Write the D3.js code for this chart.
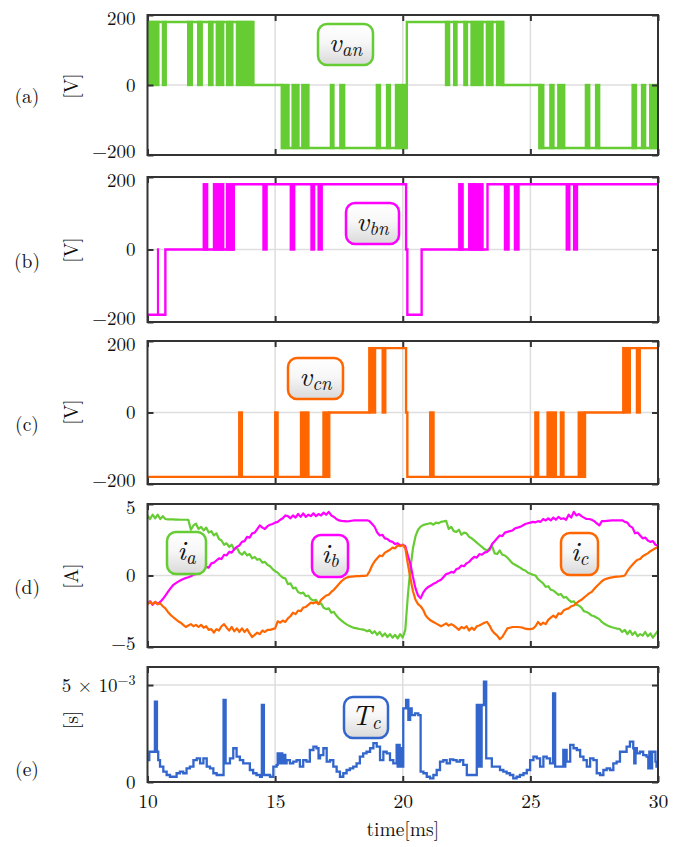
<!DOCTYPE html>
<html><head><meta charset="utf-8">
<script src="https://cdn.jsdelivr.net/npm/d3@7"></script>
<style>body{margin:0;background:#fff}svg{display:block}</style>
</head><body><svg id="c" width="685" height="847"></svg>
<script>
// ---------------- DATA ----------------
const X_TICKS = [10, 15, 20, 25, 30];
const V_TICKS = [-200, 0, 200];
const I_TICKS = [-5, 0, 5];
const T_TICKS = [0, 5e-3];

// phase voltages: held levels (step-after, [t ms, V]) and PWM switching bands ([t0, t1, peak V])
const vanLevels = [[10,180],[14.15,0],[15.26,-180],[20.16,180],[23.94,0],[25.35,-180]];
const vanBands = [[10.00,10.46,180],[10.57,10.75,180],[11.56,11.77,180],[11.95,12.16,180],[12.38,12.58,180],[12.68,13.00,180],[13.08,13.36,180],[13.47,14.15,180],
  [15.26,15.56,-180],[15.65,15.95,-180],[16.03,16.34,-180],[17.15,17.32,-180],[17.52,17.74,-180],[18.95,19.14,-180],[19.35,19.53,-180],[19.70,20.16,-180],
  [21.66,21.85,180],[21.98,22.14,180],[22.38,22.55,180],[22.66,23.16,180],[23.26,23.55,180],[23.66,23.94,180],
  [25.35,25.54,-180],[25.75,25.94,-180],[26.06,26.36,-180],[27.14,27.34,-180],[27.54,27.73,-180],[28.97,29.17,-180],[29.34,29.53,-180],[29.66,30.00,-180]];

const vbnLevels = [[10,-180],[10.70,0],[13.38,180],[20.13,0],[20.18,-180],[20.74,0],[23.32,180]];
const vbnBands = [[10.38,10.44,-180],[12.17,12.37,180],[12.57,13.00,180],[13.08,13.38,180],
  [14.51,14.70,180],[15.58,15.78,180],[16.39,16.56,180],[16.67,16.86,180],
  [22.18,22.38,180],[22.57,23.16,180],[23.97,24.18,180],[24.36,24.57,180],[26.39,26.56,180],[26.68,26.86,180]];

const vcnLevels = [[10,-180],[17.12,0],[18.69,180],[20.13,0],[20.18,-180],[27.14,0],[28.64,180]];
const vcnBands = [[13.56,13.73,-180],[14.97,15.13,-180],[15.98,16.34,-180],[16.86,17.12,-180],[18.69,18.95,180],[19.18,19.35,180],
  [21.04,21.24,-180],[25.16,25.34,-180],[25.64,26.03,-180],[26.16,26.33,-180],[26.86,27.14,-180],[28.64,28.93,180],[29.14,29.32,180]];

// phase currents sampled every 0.1 ms from 10 to 30 ms [A]
const iaVals = [
 4.20,3.95,4.25,4.00,4.25,3.95,4.15,3.95,3.93,3.92,
 3.92,3.91,3.91,3.90,3.90,3.90,3.89,3.20,3.50,3.62,
 3.25,3.40,3.15,3.35,3.00,3.10,2.80,2.95,2.55,2.45,
 2.15,2.25,2.00,2.15,1.80,1.95,1.60,1.45,1.65,1.40,
 1.50,1.20,1.30,1.10,1.15,0.90,0.95,0.75,0.65,0.45,
 0.30,0.20,0.00,-0.15,-0.20,-0.60,-0.55,-0.90,-0.85,-1.15,
 -1.25,-1.20,-1.45,-1.40,-1.65,-1.75,-1.70,-2.00,-1.95,-2.25,
 -2.35,-2.30,-2.60,-2.55,-2.80,-3.00,-3.15,-3.30,-3.42,-3.52,
 -3.60,-3.66,-3.70,-3.74,-3.77,-3.80,-3.90,-3.82,-4.05,-3.90,
 -4.15,-3.95,-4.25,-4.05,-4.30,-4.10,-4.35,-4.15,-4.40,-4.10,
 -4.35,-3.80,-1.40,0.50,1.90,2.75,3.20,3.42,3.52,3.58,
 3.62,3.66,3.55,3.70,3.65,3.75,3.78,3.82,3.25,3.40,
 3.10,3.05,3.20,2.85,3.00,2.95,2.70,2.60,2.45,2.30,
 2.15,2.00,1.85,1.75,1.90,2.05,1.55,1.50,1.75,1.45,
 1.40,1.25,1.05,0.85,0.75,0.65,0.55,0.42,0.35,0.20,
 0.12,0.05,0.00,-0.25,-0.40,-0.55,-0.80,-0.75,-1.00,-1.05,
 -1.20,-1.35,-1.30,-1.55,-1.50,-1.70,-1.85,-1.80,-2.05,-2.10,
 -2.25,-2.50,-2.55,-2.65,-2.80,-2.85,-2.95,-3.05,-3.25,-3.38,
 -3.48,-3.56,-3.62,-3.67,-3.71,-3.74,-3.95,-3.80,-4.10,-3.85,
 -4.15,-3.95,-4.25,-4.10,-4.20,-3.95,-4.25,-4.05,-4.35,-4.10,
 -3.85];
const ibVals = [
 -2.00,-1.80,-2.05,-1.85,-2.00,-1.85,-1.65,-1.40,-1.15,-0.90,
 -0.68,-0.55,-0.43,-0.33,-0.25,-0.18,-0.12,-0.05,0.05,0.10,
 0.30,0.25,0.50,0.60,0.55,0.85,0.90,1.05,1.20,1.15,
 1.45,1.40,1.65,1.60,1.85,2.00,2.10,2.35,2.40,2.70,
 2.65,2.95,3.00,3.25,3.50,3.35,3.25,3.45,3.55,3.60,
 3.70,3.75,3.90,4.00,4.20,4.15,4.00,4.20,4.05,4.30,
 4.10,4.35,4.10,4.25,4.15,4.35,4.15,4.30,4.20,4.40,
 4.25,4.45,4.20,4.10,3.95,3.85,3.82,3.80,3.78,3.80,
 3.83,3.85,3.85,3.86,3.86,3.86,3.86,3.80,3.60,3.40,
 3.00,2.80,2.85,2.60,2.55,2.40,2.35,2.20,2.25,2.10,
 2.15,2.05,1.40,0.80,-0.10,-0.90,-1.40,-1.60,-1.20,-0.95,
 -0.80,-0.70,-0.58,-0.50,-0.38,-0.30,-0.10,0.10,0.15,0.25,
 0.20,0.45,0.50,0.70,0.65,0.85,0.95,1.15,1.30,1.25,
 1.50,1.45,1.60,1.65,1.80,2.20,2.40,2.60,2.80,2.75,
 3.00,3.05,3.10,3.15,3.30,3.35,3.40,3.50,3.60,3.65,
 3.70,3.75,3.72,3.80,3.75,3.95,3.85,4.00,3.85,4.05,
 3.90,4.10,3.95,4.00,3.90,4.25,4.05,4.45,4.20,4.30,
 4.15,4.05,3.95,3.95,3.90,3.80,3.65,3.50,3.80,3.80,
 3.82,3.84,3.85,3.86,3.86,3.86,3.86,3.75,3.70,3.45,
 3.35,2.95,3.00,2.80,2.60,2.65,2.45,2.35,2.40,2.15,
 2.10];
const icVals = [
 -2.00,-1.85,-2.00,-1.85,-2.00,-1.95,-2.15,-2.30,-2.55,-2.75,
 -2.90,-3.05,-3.20,-3.30,-3.45,-3.60,-3.50,-3.40,-3.55,-3.45,
 -3.60,-3.45,-3.65,-3.55,-3.80,-3.75,-4.00,-3.75,-3.85,-3.55,
 -3.40,-3.65,-3.85,-3.60,-3.90,-3.70,-3.95,-3.70,-3.95,-3.75,
 -4.05,-4.30,-4.15,-4.00,-4.10,-3.85,-3.95,-3.80,-3.80,-3.75,
 -3.70,-3.20,-3.30,-3.15,-3.25,-3.00,-2.85,-2.60,-2.70,-2.45,
 -2.50,-2.25,-2.20,-2.05,-1.90,-1.95,-1.85,-2.00,-1.70,-1.55,
 -1.40,-1.35,-1.15,-1.00,-0.80,-0.60,-0.40,-0.25,-0.15,-0.10,
 -0.08,-0.06,-0.05,-0.04,-0.03,-0.02,0.00,0.30,0.70,1.00,
 1.20,1.40,1.35,1.60,1.70,1.80,1.95,1.90,2.10,2.05,
 2.15,1.90,0.80,-0.20,-1.10,-1.70,-2.00,-2.15,-2.40,-2.80,
 -3.00,-3.15,-3.25,-3.35,-3.45,-3.55,-3.45,-3.35,-3.50,-3.40,
 -3.50,-3.65,-3.80,-3.60,-3.70,-3.55,-3.85,-3.65,-3.80,-3.55,
 -3.50,-3.40,-3.30,-3.25,-3.50,-3.85,-4.05,-4.20,-4.45,-4.30,
 -4.00,-3.70,-3.65,-3.60,-3.60,-3.60,-3.62,-3.65,-3.72,-3.75,
 -3.75,-3.72,-3.55,-3.25,-3.45,-3.30,-3.40,-3.10,-2.95,-2.80,
 -2.95,-2.65,-2.70,-2.45,-2.35,-2.30,-2.15,-2.10,-1.95,-1.80,
 -1.70,-1.55,-1.40,-1.25,-1.15,-0.95,-0.75,-0.58,-0.40,-0.28,
 -0.22,-0.17,-0.13,-0.10,-0.08,-0.07,-0.05,0.00,0.30,0.55,
 0.75,0.95,1.10,1.15,1.35,1.45,1.55,1.70,1.80,1.90,
 2.00];
const tCur = d3.range(iaVals.length).map(i => 10 + i / 10);

// computation time T_c, step-after [t ms, value in 1e-3 s]
const tcSteps = [[10.00,1.13],[10.07,1.56],[10.29,4.14],[10.37,1.56],[10.42,1.13],[10.49,0.79],[10.62,0.53],[10.75,0.36],[10.88,0.27],[11.14,0.45],[11.27,0.53],[11.40,0.45],[11.53,0.70],[11.66,0.79],[11.80,1.13],[11.93,1.22],[12.06,0.96],[12.19,1.22],[12.32,0.79],[12.45,0.70],[12.58,0.45],[12.71,0.36],[12.98,4.23],[13.06,0.96],[13.23,1.22],[13.36,1.74],[13.49,1.31],[13.62,1.13],[13.75,0.96],[14.01,0.62],[14.14,0.45],[14.27,0.36],[14.41,0.27],[14.48,3.97],[14.56,0.36],[14.80,0.27],[14.93,0.79],[15.06,0.88],[15.10,1.48],[15.16,0.96],[15.22,1.48],[15.28,0.96],[15.34,1.40],[15.40,0.96],[15.45,1.13],[15.58,0.96],[15.71,1.05],[15.84,1.13],[15.97,0.79],[16.10,1.13],[16.23,1.05],[16.36,1.65],[16.50,1.82],[16.62,1.74],[16.70,1.22],[16.76,1.39],[16.89,1.74],[17.02,1.05],[17.15,1.13],[17.28,0.79],[17.41,0.53],[17.54,0.27],[17.67,0.45],[17.80,0.62],[17.93,0.70],[18.06,0.79],[18.19,0.96],[18.32,1.31],[18.45,1.48],[18.58,1.56],[18.72,1.74],[18.85,2.00],[18.98,1.82],[19.11,1.13],[19.24,1.56],[19.37,1.48],[19.50,1.13],[19.63,0.96],[19.76,1.91],[19.80,0.79],[19.84,1.91],[19.88,0.79],[19.92,1.74],[19.96,0.79],[20.02,3.80],[20.13,4.23],[20.22,3.20],[20.29,3.80],[20.35,3.45],[20.48,3.54],[20.61,3.45],[20.70,0.53],[20.81,0.45],[20.94,0.27],[21.07,0.19],[21.20,0.36],[21.33,0.62],[21.46,1.05],[21.59,1.13],[21.72,0.96],[21.85,1.17],[21.98,1.13],[22.11,1.05],[22.24,1.13],[22.37,0.88],[22.51,0.36],[22.90,3.97],[22.95,0.80],[23.00,3.97],[23.05,0.80],[23.09,3.97],[23.18,5.17],[23.27,1.22],[23.49,0.79],[23.81,0.62],[23.94,0.53],[24.07,0.45],[24.20,0.36],[24.33,0.19],[24.46,0.27],[24.59,0.36],[24.73,0.45],[24.86,0.62],[24.99,1.13],[25.12,1.31],[25.25,1.22],[25.38,0.79],[25.51,1.31],[25.64,1.22],[25.77,0.96],[25.89,4.57],[25.97,0.79],[26.29,1.65],[26.33,0.80],[26.37,1.65],[26.42,1.05],[26.56,1.91],[26.69,1.74],[26.82,1.65],[26.95,1.31],[27.08,1.13],[27.21,0.79],[27.34,1.22],[27.47,1.13],[27.60,0.45],[27.73,0.36],[27.86,0.62],[27.99,0.70],[28.12,0.62],[28.25,0.96],[28.38,1.05],[28.51,1.56],[28.77,1.82],[28.90,2.08],[29.03,1.74],[29.07,0.96],[29.12,1.74],[29.17,1.48],[29.29,1.56],[29.42,1.39],[29.55,1.31],[29.62,0.70],[29.66,1.56],[29.72,0.70],[29.77,1.56],[29.90,1.05],[29.94,0.79]];

// ---------------- LAYOUT / STYLE ----------------
const X0 = 147.5, X1 = 658;
const FONT = '"Latin Modern Roman", "CMU Serif", "Liberation Serif", serif';
const FRAME = '#333';
const GRID = '#dedede';
const GREEN = '#66cc33', MAGENTA = '#ff00ff', ORANGE = '#ff6600', BLUE = '#3366cc';
const FS = 19.5;
const TFS = 19;
const P = {
  a:{top:15, bottom:155, tagY:97, unitY:86},
  b:{top:177, bottom:322, tagY:262, unitY:250},
  c:{top:341, bottom:484, tagY:425, unitY:412},
  d:{top:504, bottom:647, tagY:588, unitY:576},
  e:{top:667, bottom:782, tagY:770, unitY:720}
};

const svg = d3.select('#c');
const x = d3.scaleLinear().domain([10, 30]).range([X0, X1]);
const txt = (sel, fs = FS) => sel.style('font-family', FONT).style('font-size', fs + 'px').attr('fill', '#111');

const defs = svg.append('defs');
const grad = defs.append('linearGradient').attr('id','boxg').attr('x1',0).attr('y1',0).attr('x2',0).attr('y2',1);
grad.append('stop').attr('offset','0%').attr('stop-color','#ffffff');
grad.append('stop').attr('offset','45%').attr('stop-color','#f7f7f7');
grad.append('stop').attr('offset','100%').attr('stop-color','#d9d9d9');

function panel(key, domain, yTicks, gridY) {
  const p = P[key];
  const y = d3.scaleLinear().domain(domain).range([p.bottom, p.top]);
  const g = svg.append('g');
  defs.append('clipPath').attr('id','clip'+key).append('rect')
    .attr('x',X0).attr('y',p.top).attr('width',X1-X0).attr('height',p.bottom-p.top);
  const grid = g.append('g');
  grid.selectAll('line.v').data(X_TICKS.slice(1,-1)).join('line')
    .attr('x1',d=>x(d)).attr('x2',d=>x(d)).attr('y1',p.top).attr('y2',p.bottom)
    .attr('stroke',GRID).attr('stroke-width',1.5);
  grid.selectAll('line.h').data(gridY).join('line')
    .attr('x1',X0).attr('x2',X1).attr('y1',d=>y(d)).attr('y2',d=>y(d))
    .attr('stroke',GRID).attr('stroke-width',1.5);
  const data = g.append('g').attr('clip-path',`url(#clip${key})`);
  return {g, y, data, p, yTicks};
}

function finish(pn, yFmt, xLabels) {
  const {g, y, p, yTicks} = pn;
  g.append('rect').attr('x',X0).attr('y',p.top).attr('width',X1-X0).attr('height',p.bottom-p.top)
    .attr('fill','none').attr('stroke',FRAME).attr('stroke-width',2);
  const style = sel => {
    sel.select('.domain').remove();
    sel.selectAll('line').attr('stroke',FRAME).attr('stroke-width',2);
    sel.selectAll('text').call(txt, TFS);
  };
  const [dMin, dMax] = y.domain();
  const al = g.append('g').attr('transform',`translate(${X0},0)`)
    .call(d3.axisLeft(y).tickValues(yTicks).tickSizeInner(-6).tickSizeOuter(0).tickPadding(12).tickFormat(yFmt));
  style(al);
  // keep stacked edge labels of neighbouring panels apart
  al.selectAll('.tick text').attr('y', d => d === dMin ? -3.5 : (d === dMax ? 3.5 : 0));
  const ar = g.append('g').attr('transform',`translate(${X1},0)`)
    .call(d3.axisRight(y).tickValues(yTicks).tickSizeInner(-6).tickSizeOuter(0).tickFormat(''));
  style(ar);
  const ab = g.append('g').attr('transform',`translate(0,${p.bottom})`)
    .call(d3.axisBottom(x).tickValues(X_TICKS).tickSizeInner(-6).tickSizeOuter(0).tickPadding(12).tickFormat(xLabels ? d3.format('d') : ''));
  style(ab);
  ab.selectAll('text').call(txt, FS);
  const at = g.append('g').attr('transform',`translate(0,${p.top})`)
    .call(d3.axisTop(x).tickValues(X_TICKS).tickSizeInner(-6).tickSizeOuter(0).tickFormat(''));
  style(at);
  return al;
}

function voltage(key, levels, bands, color) {
  const pn = panel(key, [-200, 200], V_TICKS, [0]);
  const y = pn.y, LW = 2.4;
  pn.data.selectAll('rect').data(bands).join('rect')
    .attr('x', d => x(d[0]) - 0.3).attr('width', d => x(d[1]) - x(d[0]) + 0.6)
    .attr('y', d => Math.min(y(d[2]), y(0)) - LW/2).attr('height', d => Math.abs(y(d[2]) - y(0)) + LW)
    .attr('fill', color);
  const pts = levels.concat([[30, levels[levels.length-1][1]]]);
  pn.data.append('path').datum(pts)
    .attr('d', d3.line().x(d=>x(d[0])).y(d=>y(d[1])).curve(d3.curveStepAfter))
    .attr('fill','none').attr('stroke',color).attr('stroke-width',LW);
  finish(pn, d3.format('d'), false);
}

voltage('a', vanLevels, vanBands, GREEN);
voltage('b', vbnLevels, vbnBands, MAGENTA);
voltage('c', vcnLevels, vcnBands, ORANGE);

// currents
{
  const pn = panel('d', [-5, 5], I_TICKS, [0]);
  const line = d3.line().x((d,i)=>x(tCur[i])).y(d=>pn.y(d)).curve(d3.curveLinear);
  [[iaVals,GREEN],[ibVals,MAGENTA],[icVals,ORANGE]].forEach(([v,c]) => {
    pn.data.append('path').datum(v).attr('d', line).attr('fill','none')
      .attr('stroke', c).attr('stroke-width', 2.2).attr('stroke-linejoin','round');
  });
  finish(pn, d3.format('d'), false);
}

// computation time
{
  const pn = panel('e', [0, 5.93e-3], T_TICKS, [5e-3]);
  const pts = tcSteps.concat([[30, tcSteps[tcSteps.length-1][1]]]);
  pn.data.append('path').datum(pts)
    .attr('d', d3.line().x(d=>x(d[0])).y(d=>pn.y(d[1]*1e-3)).curve(d3.curveStepAfter))
    .attr('fill','none').attr('stroke',BLUE).attr('stroke-width',2.3);
  const al = finish(pn, d => d === 0 ? '0' : '', true);
  al.selectAll('.tick text').attr('y', 0);
  al.selectAll('.tick').filter(d => d !== 0).select('text').each(function() {
    const t = d3.select(this);
    t.append('tspan').text('5 \u00d7 10');
    t.append('tspan').attr('dy','-0.5em').style('font-size','14px').text('\u22123');
  });
}

// axis title
svg.append('text').attr('x',(X0+X1)/2).attr('y',836).attr('text-anchor','middle')
  .call(txt).text('time[ms]');

// panel tags and units
const tags = [['a','(a)','[V]'],['b','(b)','[V]'],['c','(c)','[V]'],['d','(d)','[A]'],['e','(e)','[s]']];
tags.forEach(([k,tag,unit]) => {
  svg.append('text').attr('x',27).attr('y',P[k].tagY+6).attr('text-anchor','middle')
    .call(txt).text(tag);
  svg.append('text').attr('transform',`translate(78,${P[k].unitY}) rotate(-90)`).attr('text-anchor','middle')
    .call(txt).text(unit);
});

// legend label boxes
const labels = [
  {cx:345.5, cy:44.5, w:55, h:41, main:'v', sub:'an', color:GREEN},
  {cx:372.5, cy:223.5, w:53, h:41, main:'v', sub:'bn', color:MAGENTA},
  {cx:315.5, cy:378.5, w:55, h:41, main:'v', sub:'cn', color:ORANGE},
  {cx:186.5, cy:553, w:39, h:42, main:'i', sub:'a', color:GREEN},
  {cx:330, cy:556, w:36, h:42, main:'i', sub:'b', color:MAGENTA},
  {cx:579.5, cy:554, w:37, h:42, main:'i', sub:'c', color:ORANGE},
  {cx:366, cy:717.5, w:44, h:41, main:'T', sub:'c', color:BLUE}
];
labels.forEach(l => {
  svg.append('rect').attr('x',l.cx-l.w/2).attr('y',l.cy-l.h/2).attr('width',l.w).attr('height',l.h)
    .attr('rx',9).attr('ry',9).attr('fill','url(#boxg)').attr('stroke',l.color).attr('stroke-width',2.5);
  const t = svg.append('text').attr('x',l.cx).attr('y',l.cy+7).attr('text-anchor','middle')
    .style('font-family', FONT).style('font-style','italic').attr('fill','#111');
  t.append('tspan').style('font-size','28px').text(l.main);
  t.append('tspan').style('font-size','19px').attr('dy',4).text(l.sub);
});
</script></body></html>
